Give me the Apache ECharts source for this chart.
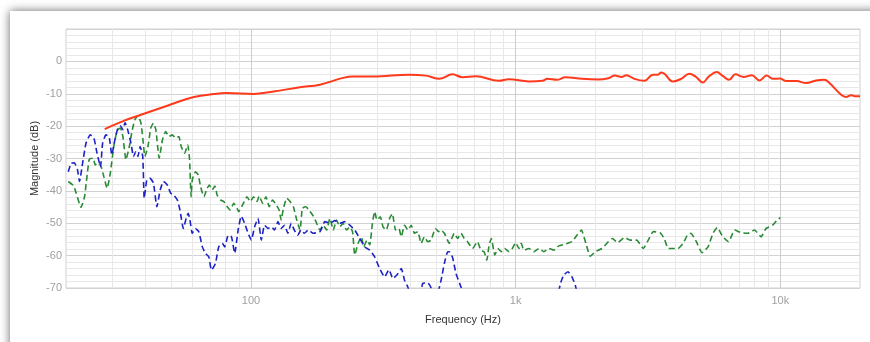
<!DOCTYPE html>
<html>
<head>
<meta charset="utf-8">
<script src="https://cdn.jsdelivr.net/npm/echarts@6/dist/echarts.min.js"></script>
<style>
  html, body { margin: 0; padding: 0; background: #fff; overflow: hidden; }
  #panel {
    position: absolute; left: 10px; top: 11px; width: 900px; height: 400px;
    background: #fff; box-shadow: 0 0 9px rgba(0, 0, 0, 0.6);
  }
  #chart { position: absolute; left: 0; top: 0; width: 870px; height: 342px; }
</style>
</head>
<body>
<div id="panel"></div>
<div id="chart"></div>
<script>
// [frequency Hz, magnitude dB]
const redCurve = [
	[28, -20.9], [33.2, -18.3], [38.4, -16.5], [48.3, -13.7], [60.9, -11.0], [72.3, -10.1],
	[81.2, -9.8], [102, -10.1], [121.6, -9.3], [153, -8.0], [182, -7.2], [223, -5.1],
	[243, -4.7], [289, -4.7], [396, -4.1], [458, -4.4], [515, -5.4], [577, -4.0],
	[630, -4.9], [706, -4.6], [864, -6.0], [943, -5.5], [1121, -6.2], [1263, -6.0],
	[1316, -5.4], [1432, -5.7], [1541, -4.9], [1781, -5.4], [2053, -5.6], [2240, -5.2],
	[2370, -4.4], [2510, -4.8], [2620, -4.3], [2810, -5.4], [3070, -6.0], [3300, -4.1],
	[3450, -4.1], [3550, -3.4], [3650, -3.8], [3930, -6.2], [4220, -5.4], [4530, -3.8],
	[4800, -4.8], [5090, -6.5], [5380, -4.6], [5750, -3.3], [6040, -4.4], [6400, -5.7],
	[6770, -4.0], [7260, -4.8], [7800, -4.3], [8330, -5.9], [8880, -4.4], [9400, -5.4],
	[9960, -5.3], [10550, -6.1], [11500, -6.1], [12530, -6.7], [13650, -5.9], [14670, -5.7],
	[15330, -6.7], [16970, -10.3], [17720, -11.0], [18510, -10.5], [19330, -10.8], [20000, -10.8],
];

const greenCurve = [
	[20.4, -37.1], [21.4, -38.5], [22.8, -45.1], [23.5, -41.8], [24.0, -35.6], [24.5, -30.2],
	[25.3, -29.9], [25.8, -32.0], [26.4, -31.3], [27.1, -32.3], [27.8, -35.6], [28.6, -39.2],
	[29.4, -34.6], [30.3, -26.3], [31.2, -21.4], [32.1, -20.6], [32.8, -23.2], [33.7, -30.4],
	[34.7, -26.3], [35.4, -22.2], [36.4, -18.0], [37.4, -16.8], [38.4, -19.1], [39.3, -26.3],
	[39.7, -29.4], [40.8, -26.3], [41.8, -20.6], [42.8, -19.1], [43.7, -21.1], [45.0, -29.9],
	[46.3, -24.2], [47.6, -21.7], [49.0, -23.2], [50.4, -22.7], [51.9, -23.7], [53.4, -23.2],
	[54.5, -26.3], [56.1, -28.4], [57.7, -25.8], [58.6, -30.4], [59.4, -41.8], [60.0, -36.6],
	[61.7, -34.1], [63.2, -35.1], [64.5, -38.7], [66.4, -41.8], [68.3, -39.2], [69.7, -38.2],
	[71.4, -39.7], [73.0, -38.5], [74.5, -41.3], [76.7, -42.8], [78.9, -43.3], [81.3, -44.9],
	[83.6, -45.9], [86.0, -43.8], [88.6, -45.4], [89.8, -46.4], [92.9, -44.4], [96.6, -41.8],
	[99.4, -43.3], [102.3, -41.8], [105.3, -43.3], [107.4, -41.6], [110.6, -43.8], [113.9, -41.8],
	[117.2, -44.9], [120.6, -42.8], [123.4, -43.8], [127.7, -45.9], [130.0, -49.0], [132.6, -45.4],
	[136.6, -42.3], [140.5, -43.3], [144.6, -44.9], [148.9, -49.0], [153.2, -52.1], [156.3, -45.4],
	[161.0, -44.9], [165.6, -45.9], [172.0, -47.8], [177.1, -50.0], [182.2, -52.1], [187.5, -50.6],
	[193.1, -52.1], [198.7, -48.5], [204.5, -52.1], [210.6, -49.0], [216.6, -51.1], [222.9, -50.0],
	[229.6, -52.1], [236.2, -51.1], [241.9, -52.6], [246.7, -59.8], [253.9, -56.2], [261.5, -54.2],
	[266.6, -57.3], [274.4, -55.2], [280.9, -56.7], [287.6, -50.0], [293.3, -46.4], [299.2, -49.0],
	[308.2, -48.0], [315.2, -51.1], [324.6, -52.1], [334.0, -48.5], [342.0, -47.0], [351.8, -52.1],
	[361.9, -51.6], [369.7, -54.2], [380.3, -50.6], [391.3, -52.1], [403.1, -50.6], [414.7, -53.1],
	[426.7, -52.6], [439.5, -56.2], [452.2, -54.2], [465.3, -55.7], [479.3, -55.2], [497.5, -51.6],
	[511.8, -52.6], [522.6, -52.1], [537.7, -53.1], [561.4, -56.2], [586.2, -53.1], [603.2, -54.7],
	[621.4, -53.1], [639.2, -54.7], [657.7, -55.7], [686.9, -57.8], [717.2, -55.7], [738.7, -58.3],
	[760.0, -58.8], [778.2, -61.4], [793.6, -56.7], [809.5, -54.7], [833.7, -59.8], [857.7, -57.8],
	[882.7, -58.8], [909.0, -57.8], [943.6, -58.8], [971.0, -57.8], [1000, -56.0], [1029, -57.8],
	[1050, -56.2], [1074, -58.3], [1122, -57.8], [1172, -58.8], [1224, -57.8], [1278, -58.8],
	[1334, -57.8], [1393, -58.3], [1455, -57.0], [1543, -56.4], [1632, -55.7], [1704, -53.7],
	[1771, -52.1], [1842, -56.2], [1914, -60.2], [1999, -58.8], [2117, -57.8], [2243, -55.7],
	[2321, -54.7], [2431, -56.0], [2577, -54.4], [2707, -55.2], [2865, -55.2], [3036, -57.8],
	[3171, -55.2], [3311, -52.6], [3510, -52.9], [3643, -54.7], [3771, -57.8], [3996, -57.8],
	[4111, -57.8], [4292, -56.2], [4455, -53.7], [4591, -53.1], [4817, -55.7], [5060, -59.1],
	[5331, -57.3], [5566, -53.1], [5777, -51.3], [6069, -54.2], [6377, -55.7], [6717, -52.1],
	[7113, -52.9], [7537, -53.1], [7987, -52.1], [8457, -54.2], [8830, -51.6], [9356, -50.6],
	[9772, -48.8], [10000, -48.3],
];

// drops below -70 in places ("-" breaks the line)
const blueCurve = [
	[20.4, -34.1], [20.9, -31.5], [21.5, -31.3], [22.1, -33.5], [22.5, -37.1], [23.1, -31.5],
	[23.8, -25.3], [24.7, -22.7], [25.5, -23.7], [26.2, -28.4], [27.0, -32.5], [27.5, -25.3],
	[28.3, -22.7], [29.1, -23.2], [29.8, -28.9], [30.5, -24.8], [31.4, -20.6], [32.1, -19.9],
	[32.8, -21.1], [33.4, -18.9], [34.2, -21.1], [35.2, -25.3], [36.0, -29.4], [36.7, -27.9],
	[37.4, -29.4], [38.1, -26.3], [39.0, -29.4], [39.5, -42.3], [40.4, -36.6], [41.5, -36.1],
	[42.8, -37.6], [44.1, -44.9], [45.4, -39.7], [46.7, -37.1], [48.3, -38.2], [49.7, -40.7],
	[51.1, -41.3], [52.7, -42.8], [53.9, -45.9], [55.5, -51.6], [57.1, -48.0], [57.9, -46.9],
	[58.8, -49.0], [60.0, -53.1], [61.7, -51.6], [63.5, -52.6], [65.5, -57.3], [67.3, -59.3],
	[69.3, -60.4], [70.9, -64.5], [73.4, -62.4], [75.5, -57.3], [77.9, -56.2], [79.6, -57.3],
	[82.0, -53.7], [84.4, -54.2], [86.8, -59.3], [89.4, -52.1], [91.9, -47.8], [94.6, -50.0],
	[97.5, -53.1], [100.3, -55.2], [103.2, -51.1], [106.3, -48.5], [109.4, -55.2], [112.5, -50.6],
	[115.9, -51.6], [119.3, -51.1], [122.7, -52.1], [126.4, -49.5], [130.0, -51.6], [133.8, -50.6],
	[137.8, -53.1], [141.8, -50.0], [145.8, -52.1], [150.2, -53.7], [154.6, -52.1], [159.0, -53.1],
	[164.6, -52.1], [172.0, -53.1], [182.2, -52.6], [190.2, -49.5], [198.7, -50.0], [207.5, -49.2],
	[216.6, -50.0], [226.2, -49.5], [236.2, -50.6], [246.7, -52.1], [257.6, -54.7], [269.0, -57.3],
	[280.9, -58.3], [293.3, -60.4], [306.3, -64.0], [319.8, -66.6], [332.0, -64.3], [343.7, -67.1],
	[355.7, -66.0], [369.7, -64.0], [380.3, -67.6], [391.3, -69.7], [407.4, -74], [430, -74],
	[445.6, -68.6], [465.3, -68.4], [479.3, -70.0], [497.5, -74], [522.6, -67.6], [537.7, -62.4],
	[553.3, -58.8], [561.4, -58.8], [577.7, -60.6], [595.0, -65.5], [621.4, -69.7], [645, -74],
	[900, "-"],
	[1429, -74], [1477, -68.6], [1519, -66.0], [1577, -65.0], [1632, -66.6], [1681, -69.2], [1730, -74],
];

const xLabelFreqs = [100, 1000, 10000];
const xLabelTexts = ["100", "1k", "10k"];
const majorFreqs = [100, 1000, 10000];
const minorFreqs = [
	30, 40, 50, 60, 70, 80, 90,
	200, 300, 400, 500, 600, 700, 800, 900,
	2000, 3000, 4000, 5000, 6000, 7000, 8000, 9000,
];
const yLabelHidden = [10];

const FONT = "'Liberation Sans', Arial, sans-serif";
const dash = [6, 3.5];

const chart = echarts.init(document.getElementById("chart"), null, { renderer: "canvas" });

const gridLines = minorFreqs
	.map((f) => ({ xAxis: f, lineStyle: { color: "#e8e8e8", width: 1, type: "solid" } }))
	.concat(majorFreqs.map((f) => ({ xAxis: f, lineStyle: { color: "#cdcdcd", width: 1, type: "solid" } })));

chart.setOption({
	animation: false,
	backgroundColor: "transparent",
	textStyle: { fontFamily: FONT },
	grid: {
		left: 66,
		right: 10,
		top: 29,
		bottom: 54,
		show: true,
		borderColor: "#d0d0d0",
		borderWidth: 1,
		backgroundColor: "transparent",
	},
	xAxis: {
		type: "log",
		logBase: 10,
		min: 20,
		max: 20000,
		name: "Frequency (Hz)",
		nameLocation: "middle",
		nameGap: 26,
		nameMoveOverlap: false,
		nameTextStyle: { color: "#333", fontSize: 11, fontFamily: FONT },
		axisLine: { show: false },
		axisTick: { show: false },
		splitLine: { show: false },
		axisLabel: {
			color: "#a0a0a0",
			fontSize: 11,
			margin: 7,
			showMinLabel: false,
			showMaxLabel: false,
			formatter: (v) => {
				const i = xLabelFreqs.indexOf(Math.round(v));
				return i >= 0 ? xLabelTexts[i] : "";
			},
		},
	},
	yAxis: {
		type: "value",
		min: -70,
		max: 10,
		interval: 10,
		name: "Magnitude (dB)",
		nameLocation: "middle",
		nameGap: 26,
		nameMoveOverlap: false,
		nameTextStyle: { color: "#333", fontSize: 11, fontFamily: FONT },
		axisLine: { show: false },
		axisTick: { show: false },
		axisLabel: {
			color: "#a0a0a0",
			fontSize: 11,
			margin: 4,
			formatter: (v) => (yLabelHidden.includes(v) ? "" : String(v)),
		},
		splitLine: { show: true, lineStyle: { color: "#d2d2d2", width: 1 } },
		minorTick: { show: false, splitNumber: 5 },
		minorSplitLine: { show: true, lineStyle: { color: "#e8e8e8", width: 1 } },
	},
	series: [
		{
			type: "line",
			data: [],
			silent: true,
			z: 1,
			markLine: {
				silent: true,
				z: 1,
				symbol: ["none", "none"],
				label: { show: false },
				animation: false,
				data: gridLines,
			},
		},
		{
			name: "green",
			type: "line",
			data: greenCurve,
			showSymbol: false,
			smooth: 0.15,
			z: 3,
			lineStyle: { color: "#2a8a36", width: 1.6, type: dash },
		},
		{
			name: "blue",
			type: "line",
			data: blueCurve,
			showSymbol: false,
			smooth: 0.15,
			connectNulls: false,
			z: 4,
			lineStyle: { color: "#1c22c4", width: 1.6, type: dash },
		},
		{
			name: "red",
			type: "line",
			data: redCurve,
			showSymbol: false,
			smooth: 0.4,
			z: 5,
			lineStyle: { color: "#ff3a1c", width: 2 },
		},
	],
});
</script>
</body>
</html>
